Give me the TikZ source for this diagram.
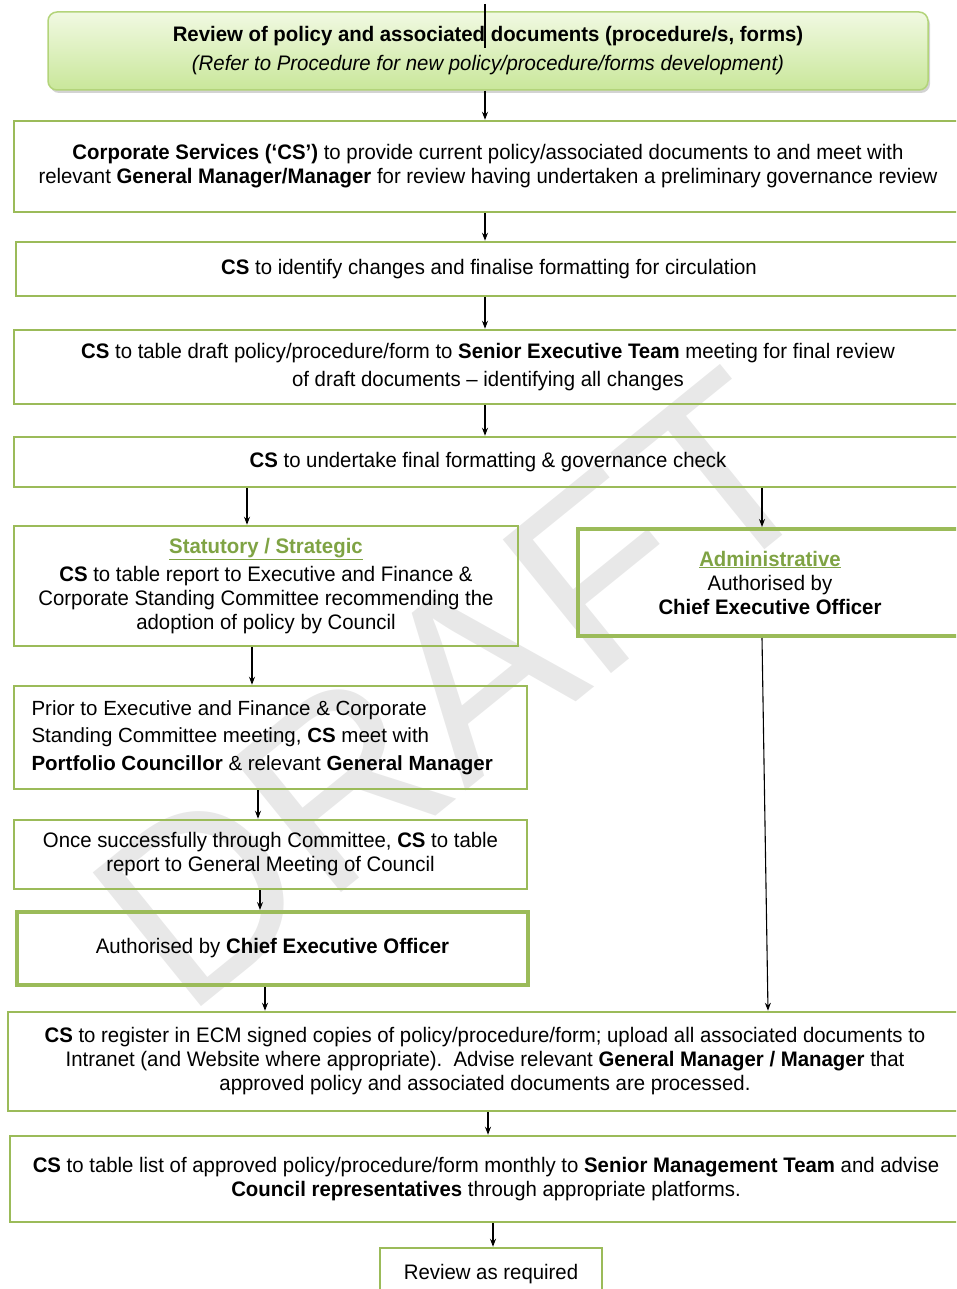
\documentclass[tikz,border=0pt]{standalone}
\usepackage{fontspec}
\setmainfont[FakeStretch=0.97]{Liberation Sans}
\newfontfamily\plainfont{Liberation Sans}
\usepackage{xcolor}
\usepackage{tikz}
\usetikzlibrary{positioning}
\usetikzlibrary{calc}
\usetikzlibrary{shapes,arrows.meta,shadows}

\definecolor{boxgreen}{HTML}{9BBB59}
\definecolor{headgreen}{HTML}{7FA344}
\definecolor{topgreen}{HTML}{F1F9E2}
\definecolor{botgreen}{HTML}{C9E79A}
\definecolor{rimgreen}{HTML}{B3D47A}

\tikzset{
	flowbox/.style={draw=boxgreen, line width=2.5pt, align=center, inner sep=0pt,
		font=\fontsize{21}{24}\selectfont},
	heavybox/.style={flowbox, line width=4pt},
	arr/.style={-{Stealth[length=8pt,width=6pt]}, line width=1.1pt}
}
\newcommand{\cshead}[1]{\textcolor{headgreen}{\textbf{\underline{#1}}}}

\begin{document}
\begin{tikzpicture}[x=1pt,y=-1pt]
		\useasboundingbox (0,0) rectangle (956,1289);
		\clip (0,0) rectangle (956,1289);
		% watermark
		\node[rotate=39, text=black!9, font=\plainfont\fontsize{250}{250}\selectfont] at (455,690) {DRAFT};
		% top box
		\node[draw=rimgreen, line width=1.5pt, rounded corners=9pt, top color=topgreen, bottom color=botgreen,
			drop shadow={shadow xshift=2pt, shadow yshift=-3pt, opacity=0.35},
			minimum width=880, minimum height=78, align=center, inner sep=0pt,
			font=\fontsize{21}{24}\selectfont] (review) at (488,51)
			{\textbf{Review of policy and associated documents (procedure/s, forms)}\\[5pt]
			 \textit{(Refer to Procedure for new policy/procedure/forms development)}};
		\coordinate (stub) at (485,4);
		\draw[line width=1.1pt] (stub) -- ($(stub)+(0,44)$);
		% main column
		\node[flowbox, minimum width=948, minimum height=91] (provide) at (488,166.5)
			{\textbf{Corporate Services (`CS')} to provide current policy/associated documents to and meet with\\
			 relevant \textbf{General Manager/Manager} for review having undertaken a preliminary governance review};
		\node[flowbox, minimum width=946, minimum height=54] (identify) at (489,269)
			{\textbf{CS} to identify changes and finalise formatting for circulation};
		\node[flowbox, minimum width=948, minimum height=74] (tabledraft) at (488,367)
			{\textbf{CS} to table draft policy/procedure/form to \textbf{Senior Executive Team} meeting for final review\\[4pt]
			 of draft documents -- identifying all changes};
		\node[flowbox, minimum width=948, minimum height=50] (finalcheck) at (488,462)
			{\textbf{CS} to undertake final formatting \& governance check};
		% two branches
		\node[flowbox, minimum width=504, minimum height=120] (statutory) at (266,586)
			{\cshead{Statutory / Strategic}\\[4pt]
			 \textbf{CS} to table report to Executive and Finance \&\\
			 Corporate Standing Committee recommending the\\
			 adoption of policy by Council};
		\node[heavybox, minimum width=384, minimum height=107] (admin) at (770,582.5)
			{\cshead{Administrative}\\ Authorised by\\ \textbf{Chief Executive Officer}};
		\node[flowbox, minimum width=513, minimum height=103, align=left, font=\plainfont\fontsize{20.5}{27.5}\selectfont] (prior) at (270.5,737.5)
			{\parbox{478pt}{Prior to Executive and Finance \& Corporate\\
			 Standing Committee meeting, \textbf{CS} meet with\\
			 \textbf{Portfolio Councillor} \& relevant \textbf{General Manager}}};
		\node[flowbox, minimum width=513, minimum height=69] (once) at (270.5,854.5)
			{Once successfully through Committee, \textbf{CS} to table\\
			 report to General Meeting of Council};
		\node[heavybox, minimum width=511, minimum height=73] (authorised) at (272.5,948.5)
			{Authorised by \textbf{Chief Executive Officer}};
		% closing steps
		\node[flowbox, minimum width=954, minimum height=99] (register) at (485,1061.5)
			{\textbf{CS} to register in ECM signed copies of policy/procedure/form; upload all associated documents to\\
			 Intranet (and Website where appropriate).\ \ Advise relevant \textbf{General Manager / Manager} that\\
			 approved policy and associated documents are processed.};
		\node[flowbox, minimum width=952, minimum height=86] (tablelist) at (486,1179)
			{\textbf{CS} to table list of approved policy/procedure/form monthly to \textbf{Senior Management Team} and advise\\
			 \textbf{Council representatives} through appropriate platforms.};
		\node[flowbox, minimum width=222, minimum height=52] (reviewreq) at (491,1274)
			{Review as required};
		% arrows
		\draw[arr] ([xshift=-3]review.south) -- ([xshift=-3]provide.north);
		\draw[arr] ([xshift=-3]provide.south) -- ([xshift=-3]identify.north -| provide.south);
		\draw[arr] ([xshift=-3]identify.south -| provide.south) -- ([xshift=-3]tabledraft.north);
		\draw[arr] ([xshift=-3]tabledraft.south) -- ([xshift=-3]finalcheck.north);
		\draw[arr] ([xshift=-19]finalcheck.south -| statutory.north) -- ([xshift=-19]statutory.north);
		\draw[arr] ([xshift=-8]finalcheck.south -| admin.north) -- ([xshift=-8]admin.north);
		\draw[arr] ([xshift=-14]statutory.south) -- ([xshift=-18.5]prior.north);
		\draw[arr] ([xshift=-12.5]prior.south) -- ([xshift=-12.5]once.north);
		\draw[arr] ([xshift=-10.5]once.south) -- ([xshift=-12.5]authorised.north);
		\draw[arr] ([xshift=-7.5]authorised.south) -- ([xshift=-220]register.north);
		\draw[arr] ([xshift=-8]admin.south) -- ([xshift=283]register.north);
		\draw[arr] ([xshift=3]register.south) -- ([xshift=2]tablelist.north);
		\draw[arr] ([xshift=7]tablelist.south) -- ([xshift=2]reviewreq.north);
	\end{tikzpicture}
\end{document}
